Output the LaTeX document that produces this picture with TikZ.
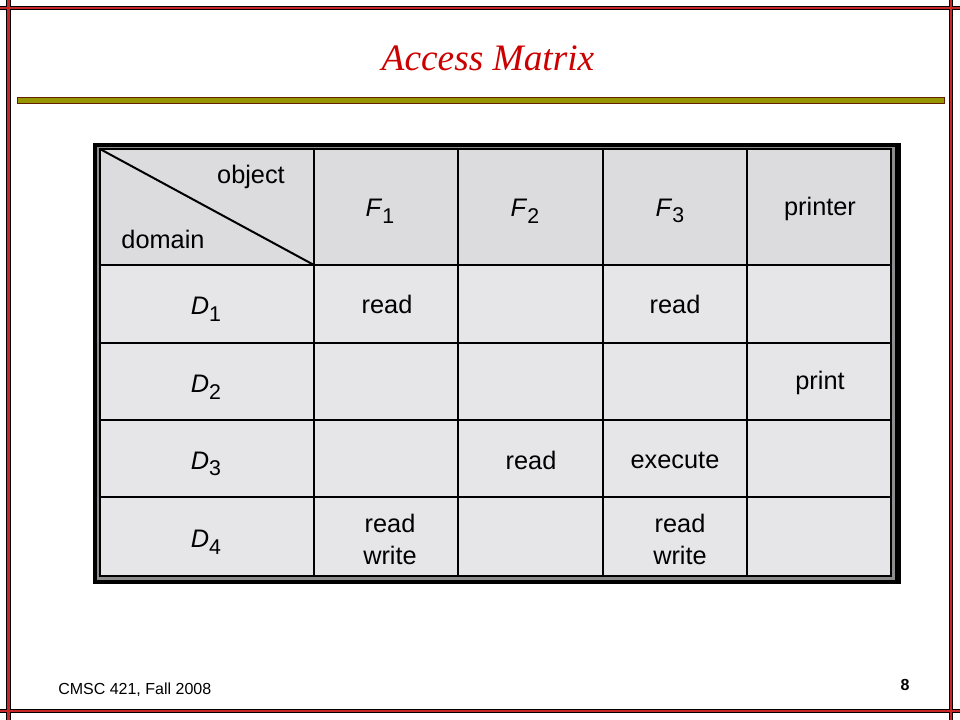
\documentclass[tikz,border=0pt]{standalone}
\usepackage{fontspec}
\setmainfont{Liberation Sans}
\newfontfamily\titlefont{Liberation Serif}
\usetikzlibrary{positioning}
\definecolor{slidered}{RGB}{204,0,0}
\definecolor{framered}{RGB}{200,40,40}
\definecolor{ruleolive}{RGB}{150,150,0}
\definecolor{rulebrown}{RGB}{100,30,0}
\definecolor{headfill}{RGB}{220,220,222}
\definecolor{bodyfill}{RGB}{230,230,232}
\definecolor{tablegray}{RGB}{140,140,140}
\newcommand{\idx}[2]{\textit{#1}\raisebox{-0.5ex}{\fontsize{16}{16}\selectfont #2}}
\tikzset{
  frameblack/.style={line width=3.6pt, draw=black},
  framecolor/.style={line width=1.8pt, draw=framered},
  %
  gridline/.style={line width=1.5pt, draw=black},
  %
  cell/.style={
    font=\fontsize{19}{24}\selectfont, align=center, inner sep=1pt
  },
  %
  footer/.style={font=\fontsize{12}{14}\selectfont, inner sep=0pt}
}

\begin{document}
\begin{tikzpicture}[x=0.75pt,y=-0.75pt]
\useasboundingbox (0,0) rectangle (960,720);
\fill[white] (0,0) rectangle (960,720);

% slide frame
\draw[frameblack] (0,8) -- (960,8);
\draw[frameblack] (0,711) -- (960,711);
\draw[frameblack] (8.5,0) -- (8.5,720);
\draw[frameblack] (951,0) -- (951,720);
\draw[framecolor] (0,8) -- (960,8);
\draw[framecolor] (0,711) -- (960,711);
\draw[framecolor] (8.5,0) -- (8.5,720);
\draw[framecolor] (951,0) -- (951,720);

\node(title)[font=\fontsize{28}{32}\selectfont\titlefont\itshape, text=slidered] at (488,58) {Access Matrix};
\draw[draw=rulebrown, fill=ruleolive, line width=0.75pt] (17,97.5) rectangle (944,103.5);

% table
\fill[black] (93,143) rectangle (901,584);
\fill[tablegray] (97,147) rectangle (895,579.5);
\fill[headfill] (100,149) rectangle (891,265);
\fill[bodyfill] (100,265) rectangle (891,576);
\draw[gridline] (100,149) rectangle (891,576);
\foreach \x in {314,458,603,747} \draw[gridline] (\x,149) -- (\x,576);
\foreach \y in {265,343,420,497} \draw[gridline] (100,\y) -- (891,\y);
\draw[gridline] (100,149) -- (314,265);

% header row
\node(object)[cell] at (251,177) {object};
\node(domain)[cell] at (163,239) {domain};
\node(f1)[cell] at (380,211) {\idx{F}{1}};
\node(f2)[cell] at (525,211) {\idx{F}{2}};
\node(f3)[cell] at (670,211) {\idx{F}{3}};
\node(printer)[cell] at (820,209) {printer};

% domain column
\foreach \i/\y in {1/309,2/387,3/464,4/542}
  \node(d\i)[cell] at (206,\y) {\idx{D}{\i}};

% rights
\node(d1f1)[cell] at (387,304) {read};
\node(d1f3)[cell] at (675,304) {read};
\node(d2pr)[cell] at (820,383) {print};
\node(d3f2)[cell] at (531,460) {read};
\node(d3f3)[cell] at (675,460) {execute};
\node(d4f1)[cell] at (390,539) {read\\write};
\node(d4f3)[cell] at (680,539) {read\\write};

% footer
\node(course)[footer, anchor=west] at (58,690) {CMSC 421, Fall 2008};
\node(page)[footer, font=\fontsize{12}{14}\selectfont\bfseries] at (905,685) {8};
\end{tikzpicture}
\end{document}
